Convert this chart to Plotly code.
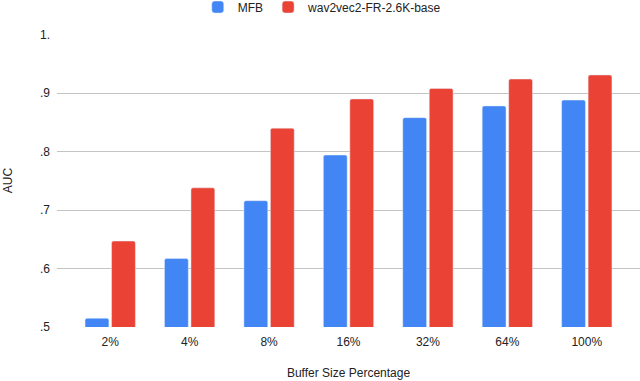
import plotly.graph_objects as go

# buffer sizes on the x axis
buffer_sizes = ["2%", "4%", "8%", "16%", "32%", "64%", "100%"]

# AUC
auc_mfb = [0.515, 0.617, 0.716, 0.794, 0.858, 0.878, 0.888]
auc_wav2vec = [0.647, 0.738, 0.840, 0.890, 0.908, 0.924, 0.931]

y_ticks = [0.5, 0.6, 0.7, 0.8, 0.9, 1.0]
y_tick_labels = [".5", ".6", ".7", ".8", ".9", "1."]

fig = go.Figure()
fig.add_trace(go.Bar(
    x=buffer_sizes, y=auc_mfb, name="MFB",
    marker=dict(color="#4285F4", cornerradius=2),
))
fig.add_trace(go.Bar(
    x=buffer_sizes, y=auc_wav2vec, name="wav2vec2-FR-2.6K-base",
    marker=dict(color="#EA4335", cornerradius=2),
))

fig.update_layout(
    width=640, height=381,
    margin=dict(l=57, r=0, t=34, b=54, autoexpand=False),
    paper_bgcolor="white", plot_bgcolor="white",
    font=dict(family="Liberation Sans, Arial", size=12, color="#222222"),
    barmode="group", bargap=0.333, bargroupgap=0.1,
    showlegend=True,
    legend=dict(orientation="h", x=0.455, xanchor="center",
                y=1.092, yanchor="middle", font=dict(size=12),
                itemwidth=30, traceorder="normal"),
)
fig.update_xaxes(
    range=[-0.67, 6.67], showgrid=False, zeroline=False, showline=False,
    ticks="", ticklabelstandoff=6, automargin=False,
    title=dict(text="Buffer Size Percentage", standoff=20,
               font=dict(size=12)),
)
fig.update_yaxes(
    range=[0.5, 1.001], tickvals=y_ticks, ticktext=y_tick_labels,
    showgrid=True, gridcolor="#c4c4c4", gridwidth=1,
    zeroline=False, showline=False, ticks="", ticklabelstandoff=6,
    automargin=False,
    title=dict(text="AUC", standoff=24, font=dict(size=12)),
)

# drop the page's default body margin so the chart sits at (0, 0)
fig.write_html("out.html", config={"displayModeBar": False},
               post_script="document.body.style.margin='0';")
